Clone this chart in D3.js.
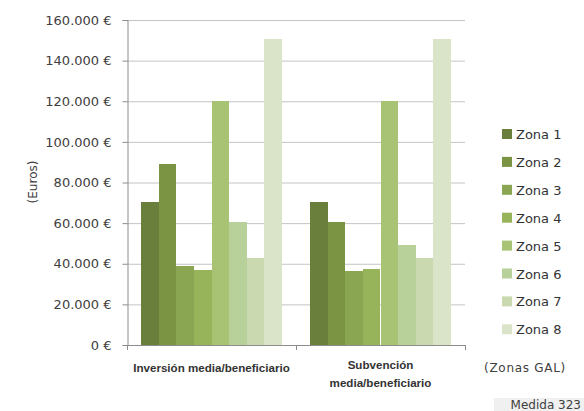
<!DOCTYPE html>
<html>
<head>
<meta charset="utf-8">
<script src="https://cdn.jsdelivr.net/npm/d3@7"></script>
<style>
  body { margin: 0; background: #fff; }
  text { font-family: "DejaVu Sans", sans-serif; }
</style>
</head>
<body>
<div class="chart"></div>
<script>
var categories = [['Inversión media/beneficiario'], ['Subvención', 'media/beneficiario']];
var zonas = ['Zona 1', 'Zona 2', 'Zona 3', 'Zona 4', 'Zona 5', 'Zona 6', 'Zona 7', 'Zona 8'];
var inversion = [70500, 89000, 39000, 37000, 120000, 60500, 43000, 150500];
var subvencion = [70500, 60500, 36500, 37500, 120000, 49000, 43000, 150500];
var yTicks = [0, 20000, 40000, 60000, 80000, 100000, 120000, 140000, 160000];
var colors = ['#6a7f3b', '#7b9443', '#8ba653', '#97b45a', '#a8c373', '#b8d09a', '#cad9b0', '#d9e4c9'];

var series = [inversion, subvencion];

var margin = { top: 20, right: 119, bottom: 66, left: 127 };
var width = 584 - margin.left - margin.right;
var height = 411 - margin.top - margin.bottom;

var svg = d3.select('.chart')
    .append('svg')
    .attr('width', 584)
    .attr('height', 411);

var g = svg.append('g')
    .attr('transform', 'translate(' + margin.left + ', ' + margin.top + ')');

var euro = d3.formatLocale({ decimal: ',', thousands: '.', grouping: [3], currency: ['', '\u00a0€'] }).format('$,');

var yScale = d3.scaleLinear()
    .domain([0, 160000])
    .range([height, 0]);

var x0 = d3.scaleBand()
    .domain(d3.range(categories.length))
    .range([0, width]);

var x1 = d3.scaleBand()
    .domain(zonas)
    .range([0, x0.bandwidth()])
    .paddingOuter(0.8);

// gridlines
g.selectAll('.grid')
    .data(yTicks.slice(1))
    .enter()
    .append('line')
    .attr('x1', 0)
    .attr('x2', width)
    .attr('y1', d => yScale(d) + 0.5)
    .attr('y2', d => yScale(d) + 0.5)
    .attr('stroke', '#c4c4c4')
    .attr('stroke-width', 1);

// bars (snapped to whole pixels so neighbours touch)
var bars = [];
series.forEach((s, i) => {
    s.forEach((v, j) => {
        var left = Math.round(x0(i) + x1(zonas[j]));
        var right = Math.round(x0(i) + x1(zonas[j]) + x1.bandwidth());
        bars.push({ left: left, w: right - left, value: v, color: colors[j] });
    });
});

g.selectAll('.bar')
    .data(bars)
    .enter()
    .append('rect')
    .attr('class', 'bar')
    .attr('x', d => d.left)
    .attr('width', d => d.w)
    .attr('y', d => Math.round(yScale(d.value)))
    .attr('height', d => height - Math.round(yScale(d.value)))
    .attr('fill', d => d.color)
    .attr('shape-rendering', 'crispEdges');

// y axis
var yAxis = d3.axisLeft(yScale)
    .tickValues(yTicks)
    .tickSize(5)
    .tickPadding(11)
    .tickFormat(euro);

var ya = g.append('g')
    .attr('transform', 'translate(0.5, 0)')
    .call(yAxis);
ya.select('.domain').attr('stroke', '#8c8c8c');
ya.selectAll('.tick line').attr('stroke', '#8c8c8c');
ya.selectAll('.tick text')
    .attr('fill', '#404040')
    .style('font-size', '13px');

// x axis line with category ticks
g.append('line')
    .attr('x1', 0)
    .attr('x2', width)
    .attr('y1', height + 0.5)
    .attr('y2', height + 0.5)
    .attr('stroke', '#8c8c8c');

g.selectAll('.xtick')
    .data(d3.range(categories.length + 1))
    .enter()
    .append('line')
    .attr('x1', d => Math.round(d * x0.bandwidth()) + 0.5)
    .attr('x2', d => Math.round(d * x0.bandwidth()) + 0.5)
    .attr('y1', height)
    .attr('y2', height + 5)
    .attr('stroke', '#8c8c8c');

// category labels
g.selectAll('.catlabel')
    .data(categories)
    .enter()
    .append('text')
    .attr('x', (d, i) => x0(i) + x0.bandwidth() / 2)
    .attr('y', d => d.length > 1 ? height + 24 : height + 27)
    .style('text-anchor', 'middle')
    .style('font-family', '"Liberation Sans", sans-serif')
    .style('font-weight', 'bold')
    .style('font-size', '11.6px')
    .attr('fill', '#333')
    .selectAll('tspan')
    .data(d => d)
    .enter()
    .append('tspan')
    .attr('x', function () { return d3.select(this.parentNode).attr('x'); })
    .attr('dy', (d, i) => i ? 18 : 0)
    .text(d => d);

// y title
svg.append('text')
    .attr('transform', 'translate(37, 182) rotate(-90)')
    .style('text-anchor', 'middle')
    .style('font-size', '12px')
    .attr('fill', '#404040')
    .text('(Euros)');

// x title
svg.append('text')
    .attr('x', 525)
    .attr('y', 372)
    .style('text-anchor', 'middle')
    .style('font-size', '12px')
    .style('letter-spacing', '0.7px')
    .attr('fill', '#404040')
    .text('(Zonas GAL)');

// legend
var legend = svg.selectAll('.legend')
    .data(zonas)
    .enter()
    .append('g')
    .attr('transform', (d, i) => `translate(502, ${134 + i * 27.9})`);

legend.append('rect')
    .attr('x', 0)
    .attr('y', -5)
    .attr('width', 10)
    .attr('height', 10)
    .attr('fill', (d, i) => colors[i]);

legend.append('text')
    .attr('x', 14)
    .attr('y', 5)
    .style('font-size', '13px')
    .attr('fill', '#333')
    .text(d => d);

// footer tag
svg.append('rect')
    .attr('x', 494)
    .attr('y', 398)
    .attr('width', 90)
    .attr('height', 13)
    .attr('fill', '#f0f0f0');

svg.append('text')
    .attr('x', 581)
    .attr('y', 409)
    .style('text-anchor', 'end')
    .style('font-size', '12px')
    .attr('fill', '#404040')
    .text('Medida 323');
</script>
</body>
</html>
